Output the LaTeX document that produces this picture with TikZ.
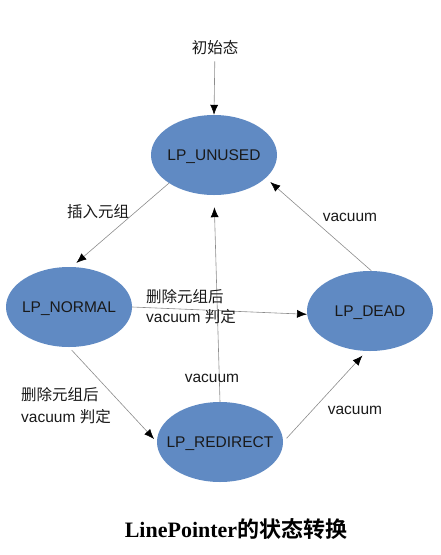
\documentclass[tikz,border=0pt]{standalone}
\usepackage{fontspec}
\setmainfont{Liberation Sans}
\newfontfamily\cjk{Noto Sans CJK SC}
\newfontfamily\titlelat{Liberation Serif}
\newfontfamily\titlecjk{Noto Sans CJK SC Bold}
\usetikzlibrary{arrows.meta,shapes.geometric}
\definecolor{stateblue}{RGB}{96,138,195}
\definecolor{linegray}{RGB}{140,140,140}
\newcommand{\stxt}[1]{\raisebox{-5.5pt}[0pt][0pt]{\makebox[0pt]{#1}}}
\begin{document}
\begin{tikzpicture}[x=1pt,y=-1pt,
  state/.style={ellipse,fill=stateblue,minimum width=126pt,minimum height=80pt,inner sep=0pt,
    font=\fontsize{15.5}{18}\selectfont,text=black!90},
  lbl/.style={font=\fontsize{15.5}{20}\selectfont,text=black!90,inner sep=0pt},
  conn/.style={draw=linegray,line width=0.6pt,-{Latex[length=10pt,width=8pt,color=black]}}]
\useasboundingbox (0,0) rectangle (441,555);
\node[state] (unused) at (214,155) {\stxt{LP\_UNUSED}};
\node[state] (normal) at (69,307) {\stxt{LP\_NORMAL}};
\node[state] (dead) at (370,311) {\stxt{LP\_DEAD}};
\node[state] (redirect) at (220,442) {\stxt{LP\_REDIRECT}};
\node[lbl] (init) at (215,48) {\cjk 初始态};
\draw[conn,shorten <=6pt] (init) -- (unused.north);
\draw[conn,shorten >=6pt] (unused.212) -- (normal.86);
\draw[conn,shorten >=6pt] (dead.88) -- (unused.-24);
\draw[conn] (normal.east) -- (dead.183);
\draw[conn,shorten >=12pt] (redirect.north) -- (unused.south);
\draw[conn,shorten <=4pt,shorten >=4pt] (normal.south) -- (redirect.west);
\draw[conn,shorten <=5pt,shorten >=6pt] (redirect.east) -- (dead.265);
\node[lbl] (l1) at (98,212) {\cjk 插入元组};
\node[lbl] (l2) at (350,217) {vacuum};
\node[lbl,anchor=west,align=left] (l3) at (146,307) {{\cjk 删除元组后}\\vacuum {\cjk 判定}};
\node[lbl] (l4) at (212,378) {vacuum};
\node[lbl,anchor=west,align=left,font=\fontsize{15.5}{22}\selectfont] (l5) at (21,406) {{\cjk 删除元组后}\\vacuum {\cjk 判定}};
\node[lbl] (l6) at (355,410) {vacuum};
\node[inner sep=0pt,font=\fontsize{22}{26}\selectfont] (title) at (236,529) {{\titlelat\bfseries LinePointer}{\titlecjk 的状态转换}};
\end{tikzpicture}
\end{document}
